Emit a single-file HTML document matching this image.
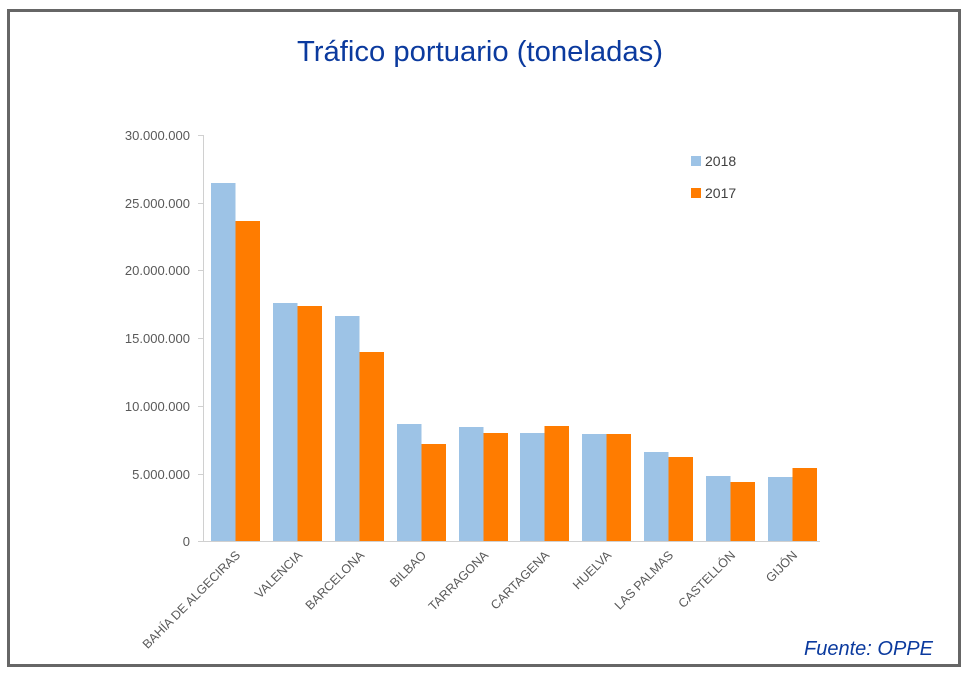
<!DOCTYPE html>
<html><head><meta charset="utf-8"><style>
body{margin:0;background:#fff;}
</style></head><body>
<svg width="969" height="677" xmlns="http://www.w3.org/2000/svg" font-family="Liberation Sans, sans-serif">
<rect x="0" y="0" width="969" height="677" fill="#fff"/>
<rect x="8.5" y="10.5" width="951" height="655" fill="none" stroke="#666" stroke-width="3"/>
<text x="480" y="61" text-anchor="middle" font-size="28.5" fill="#0b3a9e" textLength="366" lengthAdjust="spacingAndGlyphs">Tráfico portuario (toneladas)</text>
<g font-size="13" fill="#595959" text-anchor="end">
<text x="190" y="140">30.000.000</text>
<text x="190" y="208">25.000.000</text>
<text x="190" y="275">20.000.000</text>
<text x="190" y="343">15.000.000</text>
<text x="190" y="411">10.000.000</text>
<text x="190" y="479">5.000.000</text>
<text x="190" y="546">0</text>
</g>
<g stroke="#d0d0d0" stroke-width="1">
<line x1="203.5" y1="135" x2="203.5" y2="541"/>
<line x1="198" y1="135.5" x2="203" y2="135.5"/>
<line x1="198" y1="203.5" x2="203" y2="203.5"/>
<line x1="198" y1="270.5" x2="203" y2="270.5"/>
<line x1="198" y1="338.5" x2="203" y2="338.5"/>
<line x1="198" y1="406.5" x2="203" y2="406.5"/>
<line x1="198" y1="474.5" x2="203" y2="474.5"/>
<line x1="198" y1="541.5" x2="820" y2="541.5"/>
</g>
<g fill="#9dc3e6">
<rect x="211" y="183" width="24.5" height="358"/>
<rect x="273" y="303" width="24.5" height="238"/>
<rect x="335" y="316" width="24.5" height="225"/>
<rect x="397" y="424" width="24.5" height="117"/>
<rect x="459" y="427" width="24.5" height="114"/>
<rect x="520" y="433" width="24.5" height="108"/>
<rect x="582" y="434" width="24.5" height="107"/>
<rect x="644" y="452" width="24.5" height="89"/>
<rect x="706" y="476" width="24.5" height="65"/>
<rect x="768" y="477" width="24.5" height="64"/>
</g>
<g fill="#ff7c00">
<rect x="235.5" y="221" width="24.5" height="320"/>
<rect x="297.5" y="306" width="24.5" height="235"/>
<rect x="359.5" y="352" width="24.5" height="189"/>
<rect x="421.5" y="444" width="24.5" height="97"/>
<rect x="483.5" y="433" width="24.5" height="108"/>
<rect x="544.5" y="426" width="24.5" height="115"/>
<rect x="606.5" y="434" width="24.5" height="107"/>
<rect x="668.5" y="457" width="24.5" height="84"/>
<rect x="730.5" y="482" width="24.5" height="59"/>
<rect x="792.5" y="468" width="24.5" height="73"/>
</g>
<rect x="691" y="156" width="10" height="10" fill="#9dc3e6"/>
<rect x="691" y="188" width="10" height="10" fill="#ff7c00"/>
<text x="705" y="166" font-size="14" fill="#404040">2018</text>
<text x="705" y="198" font-size="14" fill="#404040">2017</text>
<g font-size="12.5" fill="#595959" text-anchor="end">
<text transform="translate(241,556) rotate(-45)">BAHÍA DE ALGECIRAS</text>
<text transform="translate(303,556) rotate(-45)">VALENCIA</text>
<text transform="translate(365,556) rotate(-45)">BARCELONA</text>
<text transform="translate(427,556) rotate(-45)">BILBAO</text>
<text transform="translate(489,556) rotate(-45)">TARRAGONA</text>
<text transform="translate(550,556) rotate(-45)">CARTAGENA</text>
<text transform="translate(612,556) rotate(-45)">HUELVA</text>
<text transform="translate(674,556) rotate(-45)">LAS PALMAS</text>
<text transform="translate(736,556) rotate(-45)">CASTELLÓN</text>
<text transform="translate(798,556) rotate(-45)">GIJÓN</text>
</g>
<text x="933" y="655" text-anchor="end" font-size="20" font-style="italic" fill="#0b3a9e">Fuente: OPPE</text>
</svg>
</body></html>
